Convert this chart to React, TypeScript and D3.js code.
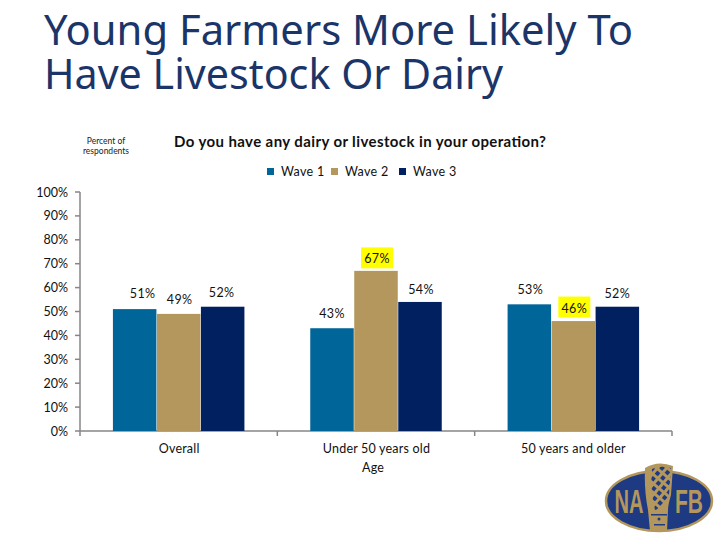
import React from "react";
import * as d3 from "d3";

const titleLines = ["Young Farmers More Likely To", "Have Livestock Or Dairy"];
const question = "Do you have any dairy or livestock in your operation?";
const noteLines = ["Percent of", "respondents"];
const categories = ["Overall", "Under 50 years old", "50 years and older"];
const axisTitle = "Age";
const seriesNames = ["Wave 1", "Wave 2", "Wave 3"];
const wave1 = [51, 43, 53];
const wave2 = [49, 67, 46];
const wave3 = [52, 54, 52];
const highlighted = ["1-1", "2-1"];
const yTicks = [0, 10, 20, 30, 40, 50, 60, 70, 80, 90, 100];
const colors = ["#006699", "#B3975D", "#002060"];

// manual label placement (screen offsets from the top-centre of each bar)
const labelOffsets: [number, number][][] = [
  [[8, -14], [1, -12], [-1, -12]],
  [[0, -13], [1, -10], [1, -10]],
  [[1, -13], [1, -11], [0, -11]],
];

const font = "Lato, 'Open Sans', sans-serif";
const NAVY = "#1E3A82";
const GOLD = "#B3975D";

function Logo() {
  return (
    <g>
      <defs>
        <pattern id="mesh" width={7} height={7} patternUnits="userSpaceOnUse" patternTransform="rotate(40)">
          <rect width={7} height={7} fill={GOLD} />
          <rect x={1} y={1} width={4} height={4} fill={NAVY} />
        </pattern>
      </defs>
      <ellipse cx={659} cy={501} rx={53} ry={30} fill={NAVY} stroke={GOLD} strokeWidth={2.5} />
      <path d="M645 468 Q658 460 673 466 L671 495 Q668 505 668 510 L667 531 L650 531 L648 510 Q644 490 645 468 Z" fill={GOLD} />
      <path d="M652 469 Q660 465 671 468 L669 495 Q664 507 655 510 Q650 490 652 469 Z" fill="url(#mesh)" />
      <rect x={651} y={514} width={16} height={1.5} fill={NAVY} />
      <rect x={654} y={524} width={11} height={1.5} fill={NAVY} />
      <circle cx={659} cy={519} r={1.5} fill={NAVY} />
      <text x={629} y={513} fontFamily="'Liberation Sans Narrow','Liberation Sans',sans-serif" fontWeight={700} fontSize={34} fill={GOLD} textAnchor="middle" textLength={29} lengthAdjust="spacingAndGlyphs">NA</text>
      <text x={689} y={513} fontFamily="'Liberation Sans Narrow','Liberation Sans',sans-serif" fontWeight={700} fontSize={34} fill={GOLD} textAnchor="middle" textLength={28} lengthAdjust="spacingAndGlyphs">FB</text>
    </g>
  );
}

export default function App() {
  const x0 = d3.scaleBand<string>().domain(categories).range([80, 672]);
  const y = d3.scaleLinear().domain([0, 100]).range([431, 192]);
  const barStep = 44;
  const barW = 43.5;
  const series = [wave1, wave2, wave3];
  const legendX = [267, 331, 399];

  return (
    <svg width={720} height={540} style={{ position: "absolute", left: 0, top: 0, background: "#fff" }}>
      {titleLines.map((t, i) => (
        <text key={t} x={44} y={45 + i * 44} fontFamily="'Noto Sans', sans-serif" fontSize={42} fill="#1B3568" textLength={i === 0 ? 589 : 459} lengthAdjust="spacingAndGlyphs">{t}</text>
      ))}
      {noteLines.map((t, i) => (
        <text key={t} x={106} y={144 + i * 10} textAnchor="middle" fontFamily={font} fontSize={8.5} fill="#222">{t}</text>
      ))}
      <text x={360} y={147} textAnchor="middle" fontFamily={font} fontWeight={700} fontSize={15} fill="#111" textLength={372}>{question}</text>

      {seriesNames.map((s, i) => (
        <g key={s}>
          <rect x={legendX[i]} y={168} width={7} height={7} fill={colors[i]} />
          <text x={legendX[i] + 14} y={176} fontFamily={font} fontSize={12.5} letterSpacing={0.3} fill="#111">{s}</text>
        </g>
      ))}

      {/* axes */}
      <line x1={80} x2={80} y1={y(100)} y2={y(0)} stroke="#868686" strokeWidth={1.5} />
      <line x1={80} x2={672} y1={y(0)} y2={y(0)} stroke="#868686" strokeWidth={1.5} />
      {yTicks.map((t) => (
        <g key={t}>
          <line x1={75} x2={80} y1={y(t)} y2={y(t)} stroke="#868686" strokeWidth={1.5} />
          <text x={68} y={y(t) + 4.5} textAnchor="end" fontFamily={font} fontSize={12.5} fill="#111">{t}%</text>
        </g>
      ))}
      {d3.range(categories.length + 1).map((i) => {
        const px = 80 + i * x0.bandwidth();
        return <line key={i} x1={px} x2={px} y1={431} y2={436} stroke="#868686" strokeWidth={1.5} />;
      })}

      {categories.map((c, ci) => {
        const cx = x0(c)! + x0.bandwidth() / 2;
        return (
          <g key={c}>
            {series.map((vals, si) => {
              const bx = cx + (si - 1) * barStep - barW / 2;
              return <rect key={si} x={bx} y={y(vals[ci])} width={barW} height={431 - y(vals[ci])} fill={colors[si]} />;
            })}
            {series.map((vals, si) => {
              const [dx, dy] = labelOffsets[ci][si];
              const lx = cx + (si - 1) * barStep + dx;
              const ly = y(vals[ci]) + dy;
              const hi = highlighted.includes(`${ci}-${si}`);
              return (
                <g key={si}>
                  {hi && <rect x={lx - 16} y={ly - 13.5} width={32} height={21} fill="#FFFF00" />}
                  <text x={lx} y={ly + 2.5} textAnchor="middle" fontFamily={font} fontSize={12.5} letterSpacing={0.4} fill="#111">{vals[ci]}%</text>
                </g>
              );
            })}
            <text x={cx + (ci === 2 ? 0 : 0.5)} y={453} textAnchor="middle" fontFamily={font} fontSize={12.5} letterSpacing={0.2} fill="#111">{c}</text>
          </g>
        );
      })}
      <text x={373} y={472} textAnchor="middle" fontFamily={font} fontSize={12.5} letterSpacing={0.2} fill="#111">{axisTitle}</text>
      <Logo />
    </svg>
  );
}
